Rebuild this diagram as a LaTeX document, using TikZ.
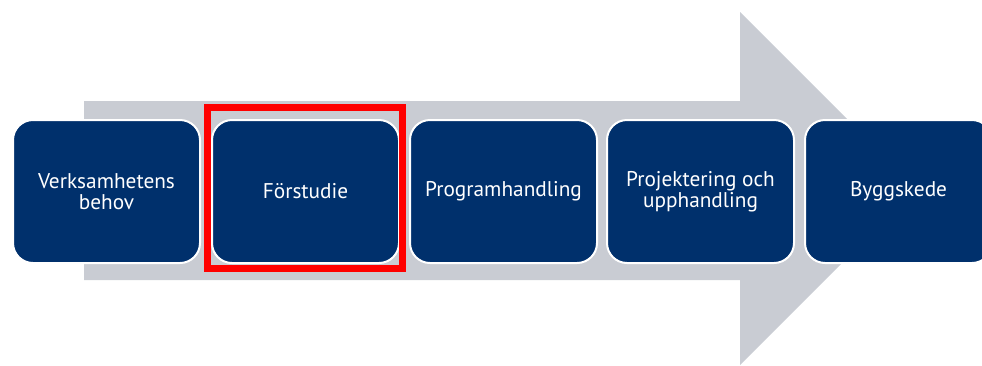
\documentclass[tikz,border=0pt]{standalone}
\usepackage{fontspec}
\setmainfont{PT Sans}
\definecolor{navy}{HTML}{00306C}
\definecolor{arrowgray}{HTML}{C9CCD3}
\definecolor{hired}{HTML}{FF0000}
\begin{document}
\begin{tikzpicture}[x=1pt,y=-1pt,
  stage/.style={draw=white,line width=2pt,fill=navy,rounded corners=20pt,
    minimum width=187pt,minimum height=143pt,text=white,align=center,
    font=\fontsize{21.3}{20.5}\selectfont,inner sep=0pt,anchor=north west},
  highlight/.style={draw=hired,line width=7pt}]
\useasboundingbox (0,0) rectangle (982,365);
\clip (0,0) rectangle (982,365);
\fill[arrowgray] (84,101) -- (740,101) -- (740,12) -- (916.5,188.5) -- (740,365) -- (740,280) -- (84,280) -- cycle;
\node[stage] (b1) at (12,119) {Verksamhetens\\behov};
\node[stage] (b2) at (211,119) {Förstudie};
\node[stage] (b3) at (409,119) {Programhandling};
\node[stage] (b4) at (606,119) {Projektering och\\upphandling};
\node[stage] (b5) at (804,119) {Byggskede};
\draw[highlight] (207.5,107.5) rectangle (402.5,268);
\end{tikzpicture}
\end{document}
